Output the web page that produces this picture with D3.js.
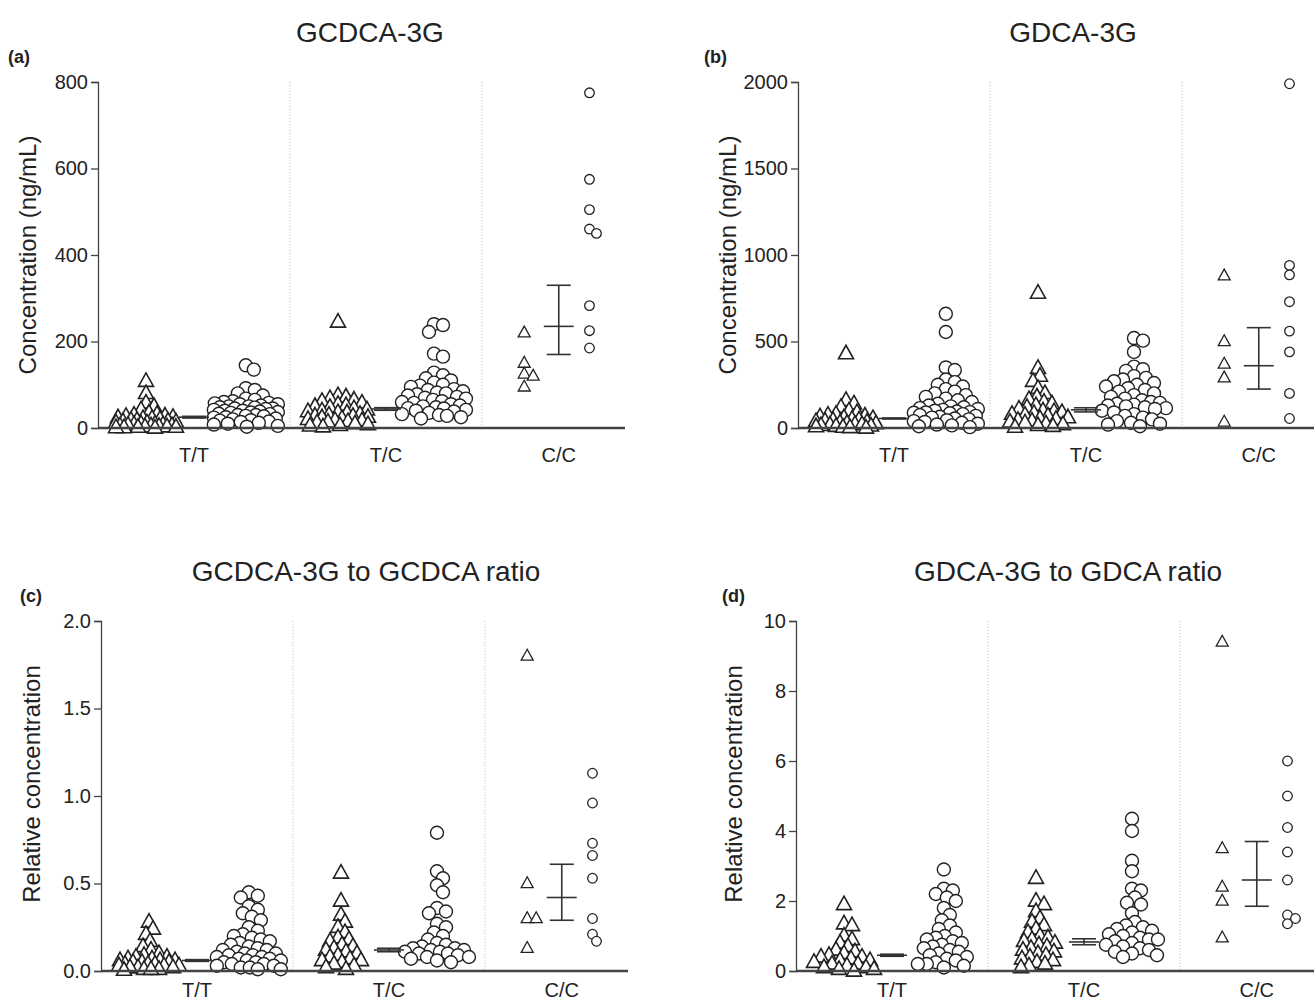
<!DOCTYPE html>
<html>
<head>
<meta charset="utf-8">
<style>
body { margin: 0; background: #fff; }
svg text { font-family: "Liberation Sans", Arial, sans-serif; fill: #222; }
.axis path, .axis line { stroke: #444; }
</style>
</head>
<body>
<svg width="1314" height="1003"></svg>
<script src="https://d3js.org/d3.v7.min.js"></script>
<script>

var genotypes = ["T/T", "T/C", "C/C"];

// (a) GCDCA-3G, ng/mL : [T/T, T/C, C/C]
var aTriangles = [
  [108, 80, 58, 50, 42, 35, 32, 30, 28, 27, 25, 24, 22, 22, 20, 18, 18, 16, 15, 14, 12, 12, 10, 10, 8, 8, 7, 6, 5, 5, 4, 3, 3, 2, 2, 1, 1, 0],
  [245, 75, 72, 68, 65, 62, 58, 55, 52, 50, 48, 45, 42, 40, 38, 36, 35, 32, 30, 28, 27, 25, 24, 22, 20, 18, 17, 15, 14, 12, 10, 8, 6, 5, 3],
  [220, 150, 125, 120, 95]
];
var aCircles = [
  [145, 135, 92, 88, 80, 75, 68, 65, 62, 60, 58, 57, 55, 55, 52, 50, 50, 48, 47, 45, 45, 44, 42, 40, 40, 38, 37, 36, 35, 33, 32, 30, 30, 28, 27, 25, 24, 22, 20, 18, 17, 15, 14, 12, 10, 8, 5, 3],
  [240, 238, 222, 172, 165, 128, 122, 115, 110, 105, 100, 98, 95, 90, 88, 85, 82, 80, 78, 75, 72, 70, 68, 65, 62, 60, 58, 55, 52, 50, 48, 46, 45, 42, 40, 38, 35, 32, 30, 28, 25, 22],
  [775, 575, 505, 460, 450, 283, 225, 185]
];
var aMean = [25, 44, 235], aLow = [23, 41, 170], aHigh = [27, 47, 330];

// (b) GDCA-3G, ng/mL
var bTriangles = [
  [430, 160, 140, 120, 100, 90, 80, 75, 70, 65, 60, 55, 50, 48, 45, 40, 38, 35, 30, 28, 25, 22, 20, 18, 15, 12, 10, 8, 5, 3, 0],
  [780, 345, 300, 270, 230, 200, 180, 165, 150, 140, 130, 120, 110, 100, 95, 90, 85, 80, 75, 70, 60, 55, 50, 45, 40, 35, 30, 25, 20, 15, 10, 5],
  [880, 500, 370, 290, 35]
];
var bCircles = [
  [660, 555, 350, 335, 280, 265, 250, 240, 225, 210, 200, 190, 180, 170, 160, 150, 140, 130, 125, 120, 115, 110, 105, 100, 95, 92, 90, 88, 85, 80, 75, 70, 65, 60, 55, 50, 45, 40, 35, 30, 25, 20, 15, 10, 5],
  [520, 505, 440, 355, 340, 330, 300, 290, 280, 270, 260, 250, 240, 230, 220, 210, 200, 190, 180, 170, 160, 150, 145, 140, 135, 130, 125, 120, 115, 110, 100, 90, 80, 70, 60, 50, 40, 30, 25, 20, 10],
  [1990, 940, 885, 730, 560, 440, 200, 55]
];
var bMean = [55, 105, 360], bLow = [52, 93, 225], bHigh = [58, 117, 580];

// (c) GCDCA-3G to GCDCA ratio
var cTriangles = [
  [0.28, 0.24, 0.21, 0.17, 0.14, 0.12, 0.10, 0.09, 0.08, 0.08, 0.07, 0.07, 0.06, 0.06, 0.06, 0.05, 0.05, 0.05, 0.04, 0.04, 0.04, 0.03, 0.03, 0.03, 0.02, 0.02, 0.02, 0.01, 0.01, 0.01, 0.005],
  [0.56, 0.40, 0.32, 0.28, 0.25, 0.22, 0.19, 0.18, 0.17, 0.15, 0.14, 0.13, 0.12, 0.11, 0.10, 0.09, 0.08, 0.07, 0.06, 0.06, 0.05, 0.04, 0.03, 0.02, 0.01],
  [1.80, 0.50, 0.30, 0.30, 0.13]
];
var cCircles = [
  [0.45, 0.43, 0.42, 0.37, 0.35, 0.33, 0.31, 0.29, 0.25, 0.23, 0.21, 0.20, 0.19, 0.18, 0.17, 0.16, 0.15, 0.14, 0.13, 0.12, 0.12, 0.11, 0.10, 0.10, 0.09, 0.09, 0.08, 0.08, 0.07, 0.07, 0.06, 0.06, 0.05, 0.05, 0.04, 0.04, 0.03, 0.03, 0.02, 0.02, 0.01, 0.01],
  [0.79, 0.57, 0.53, 0.49, 0.45, 0.36, 0.34, 0.33, 0.27, 0.25, 0.22, 0.20, 0.18, 0.16, 0.15, 0.14, 0.13, 0.13, 0.12, 0.12, 0.11, 0.11, 0.10, 0.10, 0.09, 0.08, 0.08, 0.07, 0.06, 0.05],
  [1.13, 0.96, 0.73, 0.66, 0.53, 0.30, 0.21, 0.17]
];
var cMean = [0.06, 0.12, 0.42], cLow = [0.055, 0.11, 0.29], cHigh = [0.065, 0.13, 0.61];

// (d) GDCA-3G to GDCA ratio
var dTriangles = [
  [1.9, 1.35, 1.3, 1.0, 0.9, 0.8, 0.7, 0.6, 0.55, 0.5, 0.45, 0.4, 0.4, 0.35, 0.3, 0.3, 0.25, 0.2, 0.2, 0.15, 0.1, 0.1, 0.05, 0.05, 0.0],
  [2.65, 2.0, 1.9, 1.7, 1.5, 1.4, 1.3, 1.2, 1.1, 1.0, 0.95, 0.9, 0.85, 0.8, 0.75, 0.7, 0.65, 0.6, 0.55, 0.5, 0.45, 0.4, 0.35, 0.3, 0.25, 0.2, 0.15, 0.1],
  [9.4, 3.5, 2.4, 2.0, 0.95]
];
var dCircles = [
  [2.9, 2.35, 2.3, 2.2, 2.1, 2.0, 1.8, 1.6, 1.45, 1.3, 1.2, 1.1, 1.0, 0.95, 0.9, 0.85, 0.8, 0.75, 0.7, 0.65, 0.6, 0.55, 0.5, 0.45, 0.4, 0.35, 0.3, 0.25, 0.2, 0.2, 0.15, 0.1],
  [4.35, 4.0, 3.15, 2.85, 2.35, 2.3, 2.1, 1.95, 1.9, 1.65, 1.4, 1.3, 1.25, 1.2, 1.15, 1.1, 1.05, 1.0, 0.95, 0.9, 0.9, 0.85, 0.8, 0.75, 0.7, 0.65, 0.6, 0.55, 0.5, 0.45, 0.4],
  [6.0, 5.0, 4.1, 3.4, 2.6, 1.6, 1.5, 1.35]
];
var dMean = [0.45, 0.83, 2.6], dLow = [0.42, 0.75, 1.85], dHigh = [0.48, 0.92, 3.7];

var panels = [
  {tag: "(a)", title: "GCDCA-3G", ylabel: "Concentration (ng/mL)", left: 98, top: 82, bottom: 428,
   max: 800, ticks: [0, 200, 400, 600, 800], fmt: d3.format("d"), catDy: 34, labelDy: 0,
   tri: aTriangles, cir: aCircles, mean: aMean, lo: aLow, hi: aHigh, titleX: 370, tagX: 8, labelX: 36},
  {tag: "(b)", title: "GDCA-3G", ylabel: "Concentration (ng/mL)", left: 798, top: 82, bottom: 428,
   max: 2000, ticks: [0, 500, 1000, 1500, 2000], fmt: d3.format("d"), catDy: 34, labelDy: 0,
   tri: bTriangles, cir: bCircles, mean: bMean, lo: bLow, hi: bHigh, titleX: 1073, tagX: 704, labelX: 736},
  {tag: "(c)", title: "GCDCA-3G to GCDCA ratio", ylabel: "Relative concentration", left: 101, top: 621, bottom: 971,
   max: 2, ticks: [0, 0.5, 1, 1.5, 2], fmt: d3.format(".1f"), catDy: 26, labelDy: -12,
   tri: cTriangles, cir: cCircles, mean: cMean, lo: cLow, hi: cHigh, titleX: 366, tagX: 20, labelX: 40},
  {tag: "(d)", title: "GDCA-3G to GDCA ratio", ylabel: "Relative concentration", left: 796, top: 621, bottom: 971,
   max: 10, ticks: [0, 2, 4, 6, 8, 10], fmt: d3.format("d"), catDy: 26, labelDy: -12,
   tri: dTriangles, cir: dCircles, mean: dMean, lo: dLow, hi: dHigh, titleX: 1068, tagX: 722, labelX: 742}
];

var svg = d3.select("svg");

// group layout in "group units": center of each genotype and offsets of triangle / circle columns
var centers = [0.5, 1.5, 2.4],
    triOff = [-0.25, -0.25, -0.18],
    cirOff = [0.27, 0.25, 0.16],
    bigMarker = [true, true, false];

// deterministic beeswarm limited to +/- maxW px; when crowded, take the least-overlapping spot
function swarm(vals, y, minDist, maxW) {
  var pts = vals.map(function(v) { return {v: v, y: y(v), dx: 0}; })
    .sort(function(a, b) { return b.v - a.v; });
  var placed = [];
  pts.forEach(function(p) {
    var best = 0, bestD = -1;
    for (var k = 0; k <= 2 * maxW; k++) {
      var off = (k % 2 ? 1 : -1) * Math.ceil(k / 2);
      var md = Infinity;
      placed.forEach(function(q) {
        var dx = q.dx - off, dy = q.y - p.y;
        md = Math.min(md, Math.sqrt(dx * dx + dy * dy));
      });
      if (md >= minDist) { best = off; break; }
      if (md > bestD) { bestD = md; best = off; }
    }
    p.dx = best;
    placed.push(p);
  });
  return pts;
}

function triPath(s) {
  var h = s * 0.9;
  return "M0," + (-h * 0.62) + "L" + (s / 2) + "," + (h * 0.38) + "L" + (-s / 2) + "," + (h * 0.38) + "Z";
}

panels.forEach(function(p) {
  var x = d3.scaleLinear().domain([0, 2.745]).range([p.left, p.left + 527]);
  var y = d3.scaleLinear().domain([0, p.max]).range([p.bottom, p.top]);
  var g = svg.append("g");

  // dotted separators
  g.selectAll(".sep").data([1, 2]).join("line")
    .attr("x1", function(d) { return x(d); }).attr("x2", function(d) { return x(d); })
    .attr("y1", p.top).attr("y2", p.bottom)
    .attr("stroke", "#bbb").attr("stroke-width", 1).attr("stroke-dasharray", "1,2");

  // y axis
  var ya = g.append("g").attr("class", "axis")
    .attr("transform", "translate(" + p.left + ",0)")
    .call(d3.axisLeft(y).tickValues(p.ticks).tickFormat(p.fmt).tickSizeOuter(0).tickSize(7).tickPadding(3));
  ya.select(".domain").attr("stroke-width", 1.3);
  ya.selectAll(".tick line").attr("stroke-width", 1.3);
  ya.selectAll(".tick text").attr("fill", "#222").style("font-size", "20px");

  genotypes.forEach(function(gt, i) {
    var big = bigMarker[i];
    var cx = x(centers[i]);

    // triangles
    var tx = x(centers[i] + triOff[i]);
    var tpts = swarm(p.tri[i], y, big ? 8 : 9, big ? 30 : 16);
    g.append("g").selectAll("path").data(tpts).join("path")
      .attr("transform", function(d) { return "translate(" + (tx + d.dx) + "," + d.y + ")"; })
      .attr("d", triPath(big ? 15 : 12))
      .attr("fill", "#fff").attr("stroke", "#222").attr("stroke-width", big ? 1.6 : 1.3);

    // circles
    var ccx = x(centers[i] + cirOff[i]);
    var cpts = swarm(p.cir[i], y, big ? 9 : 8, big ? 32 : 14);
    g.append("g").selectAll("circle").data(cpts).join("circle")
      .attr("cx", function(d) { return ccx + d.dx; })
      .attr("cy", function(d) { return d.y; })
      .attr("r", big ? 6.5 : 4.8)
      .attr("fill", "#fff").attr("stroke", "#222").attr("stroke-width", big ? 1.4 : 1.3);

    // mean +/- SEM
    var eb = g.append("g").attr("stroke", "#333").attr("stroke-width", 1.6);
    eb.append("line").attr("x1", cx).attr("x2", cx).attr("y1", y(p.lo[i])).attr("y2", y(p.hi[i]));
    eb.append("line").attr("x1", cx - 15).attr("x2", cx + 15).attr("y1", y(p.mean[i])).attr("y2", y(p.mean[i]));
    eb.selectAll(".cap").data([p.lo[i], p.hi[i]]).join("line")
      .attr("x1", cx - 12).attr("x2", cx + 12)
      .attr("y1", function(d) { return y(d); }).attr("y2", function(d) { return y(d); });
  });

  // x axis line (drawn over markers)
  g.append("line").attr("x1", p.left).attr("x2", x(2.745))
    .attr("y1", p.bottom).attr("y2", p.bottom)
    .attr("stroke", "#444").attr("stroke-width", 2.5);

  // category labels
  g.selectAll(".cat").data(genotypes).join("text")
    .attr("x", function(d, i) { return x(centers[i]); })
    .attr("y", p.bottom + p.catDy)
    .attr("text-anchor", "middle").style("font-size", "20px")
    .text(function(d) { return d; });

  // titles
  g.append("text").attr("x", p.titleX).attr("y", p.top - 40)
    .attr("text-anchor", "middle").style("font-size", "28px").text(p.title);
  g.append("text").attr("x", p.tagX).attr("y", p.top - 19)
    .style("font-size", "18px").style("font-weight", "bold").text(p.tag);
  g.append("text")
    .attr("transform", "translate(" + p.labelX + "," + ((p.top + p.bottom) / 2 + p.labelDy) + ") rotate(-90)")
    .attr("text-anchor", "middle").style("font-size", "24px").text(p.ylabel);
});

</script>
</body>
</html>
